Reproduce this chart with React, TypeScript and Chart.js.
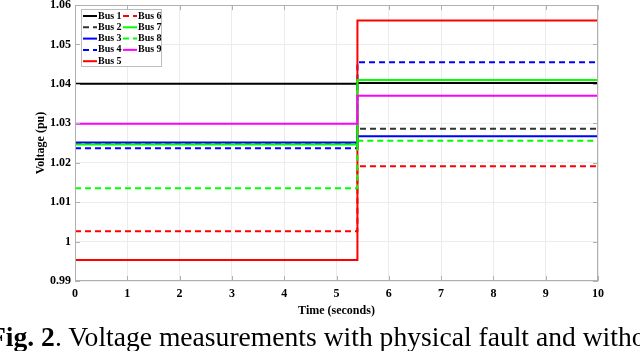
import React, { useEffect, useRef } from "react";
import { Chart, registerables } from "chart.js";

Chart.register(...registerables);

const times = [0, 5.4, 10];
const busNames = ["Bus 1", "Bus 2", "Bus 3", "Bus 4", "Bus 5", "Bus 6", "Bus 7", "Bus 8", "Bus 9"];
const bus1 = [1.04, 1.0402, 1.0402];
const bus2 = [1.0248, 1.0286, 1.0286];
const bus3 = [1.0251, 1.0267, 1.0267];
const bus4 = [1.0237, 1.0455, 1.0455];
const bus5 = [0.9953, 1.0561, 1.0561];
const bus6 = [1.0026, 1.0191, 1.0191];
const bus7 = [1.0246, 1.041, 1.041];
const bus8 = [1.0135, 1.0256, 1.0256];
const bus9 = [1.0299, 1.037, 1.037];
const busValues = [bus1, bus2, bus3, bus4, bus5, bus6, bus7, bus8, bus9];
const busColors = ["#000000", "#333333", "#0000ff", "#0000ff", "#ff0000", "#ff0000", "#00ff00", "#00ff00", "#ff00ff"];
const busDashed = [false, true, false, true, false, true, false, true, false];
const yTicks = [0.99, 1, 1.01, 1.02, 1.03, 1.04, 1.05, 1.06];
const xTicks = [0, 1, 2, 3, 4, 5, 6, 7, 8, 9, 10];

const FONT = "Liberation Serif, DejaVu Serif, serif";

const legendPlugin = {
  id: "busLegend",
  afterDatasetsDraw(chart: any) {
    const ctx = chart.ctx;
    const ca = chart.chartArea;
    const bx = ca.left + 6;
    const by = ca.top + 4;
    const bw = 80;
    const bh = 57;
    ctx.save();
    ctx.fillStyle = "#ffffff";
    ctx.fillRect(bx, by, bw, bh);
    ctx.strokeStyle = "#bdbdbd";
    ctx.lineWidth = 1;
    ctx.strokeRect(bx + 0.5, by + 0.5, bw, bh);
    ctx.font = "bold 10px " + FONT;
    ctx.textBaseline = "middle";
    ctx.fillStyle = "#000";
    chart.data.datasets.forEach((ds: any, i: number) => {
      const col = i < 5 ? 0 : 1;
      const row = i < 5 ? i : i - 5;
      const lx = bx + 2 + col * 40;
      const ly = by + 7 + row * 11.3;
      ctx.strokeStyle = ds.borderColor;
      ctx.lineWidth = 2;
      ctx.setLineDash(ds.borderDash || []);
      ctx.beginPath();
      ctx.moveTo(lx, ly);
      ctx.lineTo(lx + 14, ly);
      ctx.stroke();
      ctx.setLineDash([]);
      ctx.fillStyle = "#000";
      ctx.fillText(ds.label, lx + 15, ly);
    });
    ctx.restore();
  },
};

const frameTicksPlugin = {
  id: "frameTicks",
  afterDraw(chart: any) {
    const ctx = chart.ctx;
    const ca = chart.chartArea;
    const xs = chart.scales.x;
    const ys = chart.scales.y;
    ctx.save();
    ctx.strokeStyle = "#b0b0b0";
    ctx.lineWidth = 1;
    ctx.strokeRect(ca.left + 0.5, ca.top + 0.5, ca.right - ca.left - 1, ca.bottom - ca.top - 1);
    ctx.beginPath();
    yTicks.forEach((v) => {
      const y = Math.round(ys.getPixelForValue(v)) + 0.5;
      ctx.moveTo(ca.left, y);
      ctx.lineTo(ca.left + 5, y);
      ctx.moveTo(ca.right, y);
      ctx.lineTo(ca.right - 5, y);
    });
    xTicks.forEach((v) => {
      const x = Math.round(xs.getPixelForValue(v)) + 0.5;
      ctx.moveTo(x, ca.bottom);
      ctx.lineTo(x, ca.bottom - 5);
      ctx.moveTo(x, ca.top);
      ctx.lineTo(x, ca.top + 5);
    });
    ctx.stroke();
    ctx.restore();
  },
};

export default function App() {
  const ref = useRef<HTMLCanvasElement | null>(null);

  useEffect(() => {
    if (!ref.current) return;
    const datasets = busNames.map((name, i) => ({
      label: name,
      data: times.map((t, j) => ({ x: t, y: busValues[i][j] })),
      borderColor: busColors[i],
      backgroundColor: busColors[i],
      borderWidth: 2,
      borderDash: busDashed[i] ? [6, 4] : [],
      pointRadius: 0,
      stepped: true,
      fill: false,
      order: 9 - i,
    }));
    const chart = new Chart(ref.current, {
      type: "line",
      data: { datasets },
      plugins: [legendPlugin, frameTicksPlugin],
      options: {
        animation: false,
        responsive: false,
        maintainAspectRatio: false,
        layout: { padding: { left: 0, right: 42, top: 5, bottom: 0 } },
        plugins: { legend: { display: false }, tooltip: { enabled: false } },
        scales: {
          x: {
            type: "linear",
            min: 0,
            max: 10,
            afterBuildTicks: (s: any) => {
              s.ticks = xTicks.map((v) => ({ value: v }));
            },
            afterFit: (s: any) => {
              s.height = 41;
              s.paddingLeft = 0;
              s.paddingRight = 0;
            },
            ticks: {
              color: "#000",
              font: { family: FONT, size: 12, weight: "bold" },
              padding: 6,
              maxRotation: 0,
              autoSkip: false,
            },
            grid: { color: "#ececec", drawTicks: false },
            border: { display: false },
            title: {
              display: true,
              text: "Time (seconds)",
              color: "#000",
              font: { family: FONT, size: 12, weight: "bold" },
              padding: { top: 0, bottom: 4 },
            },
          },
          y: {
            type: "linear",
            min: 0.99,
            max: 1.06,
            afterBuildTicks: (s: any) => {
              s.ticks = yTicks.map((v) => ({ value: v }));
            },
            afterFit: (s: any) => {
              s.width = 75;
              s.paddingTop = 0;
              s.paddingBottom = 0;
            },
            ticks: {
              color: "#000",
              font: { family: FONT, size: 12, weight: "bold" },
              padding: 4,
              autoSkip: false,
              callback: (v: any) => String(Number(Number(v).toFixed(2))),
            },
            grid: { color: "#ececec", drawTicks: false },
            border: { display: false },
            title: {
              display: true,
              text: "Voltage (pu)",
              color: "#000",
              font: { family: FONT, size: 12, weight: "bold" },
              padding: { top: 34, bottom: 0 },
            },
          },
        },
      } as any,
    });
    return () => chart.destroy();
  }, []);

  return (
    <div
      style={{
        position: "absolute",
        left: 0,
        top: 0,
        width: 640,
        height: 351,
        overflow: "hidden",
        background: "#fff",
      }}
    >
      <canvas ref={ref} width={640} height={322} style={{ position: "absolute", left: 0, top: 0 }} />
      <div
        style={{
          position: "absolute",
          left: -11,
          top: 323,
          whiteSpace: "nowrap",
          fontFamily: FONT,
          fontSize: 27.6,
          lineHeight: 1,
          color: "#000",
        }}
      >
        <b>Fig. 2</b>. Voltage measurements with physical fault and without
      </div>
    </div>
  );
}
